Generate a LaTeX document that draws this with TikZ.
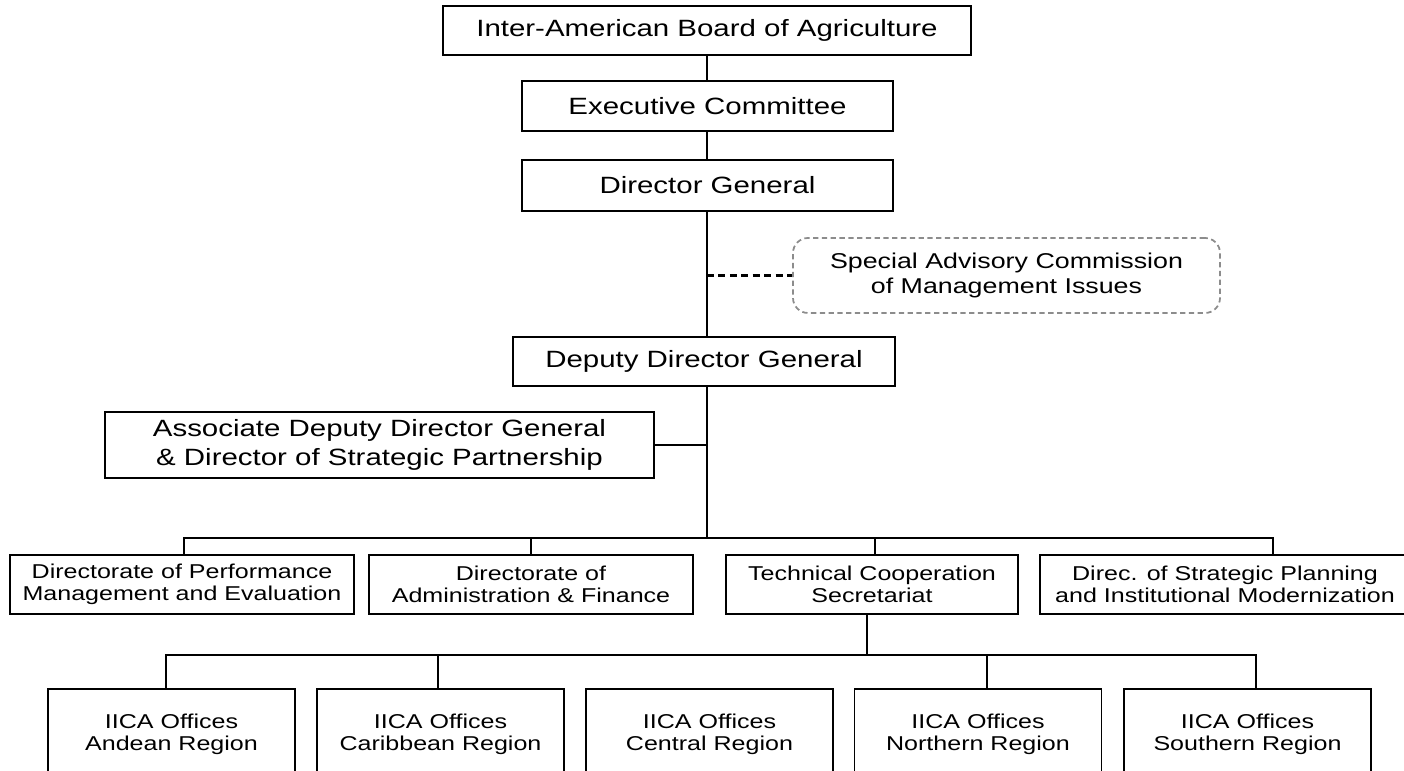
\documentclass[tikz,border=0pt]{standalone}
\usepackage{fontspec}
\setmainfont{Liberation Sans}[FakeStretch=1.25]
\usepackage{xcolor}
\usepackage{tikz}
\definecolor{advgray}{HTML}{8C8C8C}
\newcommand{\orgL}{\fontsize{13.4}{16.1}\selectfont}
\newcommand{\orgM}{\fontsize{12.2}{14.2}\selectfont}
\newcommand{\orgS}{\fontsize{11.4}{12.8}\selectfont}

\begin{document}
\begin{tikzpicture}[
  unit/.style={draw, line width=1.1pt, inner sep=0pt, align=center, font=\orgS},
  link/.style={line width=1pt},
  advlink/.style={line width=1.25pt, dash pattern=on 4pt off 2.5pt}]
  \useasboundingbox (0,0) rectangle (28.08,15.42);

  % Governing bodies and top management
  \node[unit, font=\orgL, minimum width=10.56cm, minimum height=0.98cm] (iaba) at (14.14,14.81) {Inter-American Board of Agriculture};
  \node[unit, font=\orgL, minimum width=7.42cm, minimum height=1.0cm] (exec) at (14.15,13.30) {Executive Committee};
  \node[unit, font=\orgL, minimum width=7.42cm, minimum height=1.02cm] (dg) at (14.15,11.71) {Director General};
  \node[unit, font=\orgL, minimum width=7.64cm, minimum height=0.98cm] (ddg) at (14.08,8.19) {Deputy Director General};
  \node[unit, font=\orgL, minimum width=10.98cm, minimum height=1.32cm] (addg) at (7.59,6.52) {Associate Deputy Director General\\ \& Director of Strategic Partnership};

  % Advisory commission (dashed)
  \node[draw=advgray, line width=1pt, dash pattern=on 3pt off 2pt, rounded corners=0.3cm,
        inner sep=0pt, align=center, font=\orgM, minimum width=8.54cm, minimum height=1.5cm]
        (sacmi) at (20.13,9.91) {Special Advisory Commission\\ of Management Issues};

  % Directorates
  \node[unit, minimum width=6.88cm, minimum height=1.18cm] (dpme) at (3.64,3.73) {Directorate of Performance\\ Management and Evaluation};
  \node[unit, minimum width=6.48cm, minimum height=1.18cm] (daf) at (10.62,3.73) {Directorate of\\ Administration \& Finance};
  \node[unit, minimum width=5.84cm, minimum height=1.18cm] (tcs) at (17.44,3.73) {Technical Cooperation\\ Secretariat};
  \node[unit, minimum width=7.4cm, minimum height=1.18cm] (dspim) at (24.5,3.73) {Direc. of Strategic Planning\\ and Institutional Modernization};

  % Regional offices
  \node[unit, minimum width=4.94cm, minimum height=1.82cm] (andean) at (3.43,0.73) {IICA Offices\\ Andean Region};
  \node[unit, minimum width=4.94cm, minimum height=1.82cm] (caribbean) at (8.81,0.73) {IICA Offices\\ Caribbean Region};
  \node[unit, minimum width=4.94cm, minimum height=1.82cm] (central) at (14.19,0.73) {IICA Offices\\ Central Region};
  \node[unit, minimum width=4.94cm, minimum height=1.82cm] (northern) at (19.56,0.73) {IICA Offices\\ Northern Region};
  \node[unit, minimum width=4.94cm, minimum height=1.82cm] (southern) at (24.95,0.73) {IICA Offices\\ Southern Region};

  % Main spine
  \coordinate (bus) at (14.14,4.66);
  \coordinate (lbus) at (17.34,2.32);
  \draw[link] (iaba.south -| bus) -- (exec.north -| bus);
  \draw[link] (exec.south -| bus) -- (dg.north -| bus);
  \draw[link] (dg.south -| bus) -- (ddg.north -| bus);
  \draw[link] (ddg.south -| bus) -- (bus);
  \draw[link] (addg.east) -- (addg.east -| bus);
  \draw[advlink] (sacmi.west -| bus) -- (sacmi.west);

  % Directorates bus
  \draw[link] ([xshift=0.04cm]dpme.north) |- (bus) -| ([xshift=0.96cm]dspim.north);
  \draw[link] (daf.north) -- (daf.north |- bus);
  \draw[link] ([xshift=0.06cm]tcs.north) -- ([xshift=0.06cm]tcs.north |- bus);

  % Regional offices bus
  \draw[link] (tcs.south -| lbus) -- (lbus);
  \draw[link] ([xshift=-0.11cm]andean.north) |- (lbus) -| ([xshift=0.17cm]southern.north);
  \draw[link] ([xshift=-0.05cm]caribbean.north) -- ([xshift=-0.05cm]caribbean.north |- lbus);
  \draw[link] ([xshift=0.18cm]northern.north) -- ([xshift=0.18cm]northern.north |- lbus);
\end{tikzpicture}
\end{document}
